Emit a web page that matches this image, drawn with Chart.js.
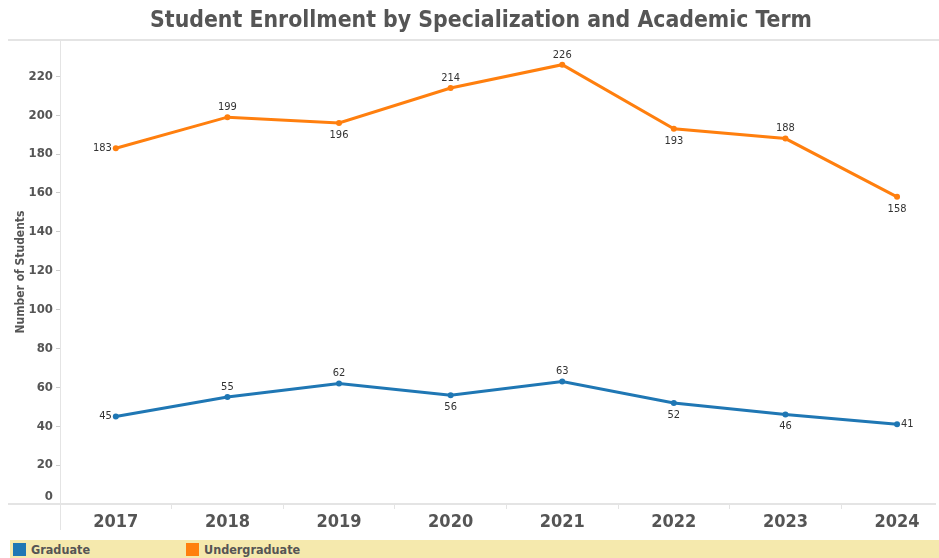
<!DOCTYPE html>
<html><head><meta charset="utf-8">
<script src="https://cdn.jsdelivr.net/npm/chart.js@4"></script>
<style>
html,body{margin:0;padding:0;background:#fff;overflow:hidden}
#wrap{position:relative;width:939px;height:558px}
#c{position:absolute;left:0;top:0}
#legend{position:absolute;left:10px;top:540px;width:929px;height:18px;background:#f5e9ad;font:bold 12.5px 'DejaVu Sans Condensed','DejaVu Sans',sans-serif;color:#555}
.item{position:absolute;top:0;height:18px;line-height:19px;white-space:nowrap}
.sw{position:absolute;top:3px;width:13px;height:13px}
</style></head>
<body><div id="wrap"><canvas id="c" width="939" height="540"></canvas><div id="legend"></div></div>
<script>
const years = ['2017','2018','2019','2020','2021','2022','2023','2024'];
const graduate = [45,55,62,56,63,52,46,41];
const undergraduate = [183,199,196,214,226,193,188,158];
const yTicks = [0,20,40,60,80,100,120,140,160,180,200,220];
const seriesNames = ['Graduate','Undergraduate'];
const seriesColors = ['#1f77b4','#ff7f0e'];
const chartTitle = 'Student Enrollment by Specialization and Academic Term';
const yTitle = 'Number of Students';
const gradLabelPos = ['left','top','top','bottom','top','bottom','bottom','right'];
const ugLabelPos = ['left','top','bottom','top','top','bottom','top','bottom'];

const FAM = "'DejaVu Sans Condensed','DejaVu Sans',sans-serif";

const decor = {
  id: 'decor',
  afterDraw(chart) {
    const {ctx, chartArea: a} = chart;
    const ys = chart.scales.y;
    ctx.save();
    ctx.strokeStyle = '#e4e4e4';
    ctx.lineWidth = 2;
    ctx.beginPath(); ctx.moveTo(8, a.top); ctx.lineTo(chart.width, a.top); ctx.stroke();
    ctx.beginPath(); ctx.moveTo(8, a.bottom); ctx.lineTo(a.left, a.bottom); ctx.stroke();
    ctx.lineWidth = 1;
    ctx.beginPath(); ctx.moveTo(a.left + 0.5, a.top); ctx.lineTo(a.left + 0.5, 530); ctx.stroke();
    // zero tick label, lifted above the axis line as in the original
    ctx.fillStyle = '#555555';
    ctx.font = 'bold 13px ' + FAM;
    ctx.textAlign = 'right';
    ctx.textBaseline = 'middle';
    ctx.fillText(String(yTicks[0]), a.left - 7, ys.getPixelForValue(yTicks[0]) - 7);
    // title
    ctx.font = 'bold 22.8px ' + FAM;
    ctx.textAlign = 'center';
    ctx.fillText(chartTitle, 481, 21);
    // data labels
    ctx.font = '11px ' + FAM;
    ctx.fillStyle = '#333333';
    chart.data.datasets.forEach((ds, di) => {
      const meta = chart.getDatasetMeta(di);
      meta.data.forEach((pt, i) => {
        const pos = ds.labelPos[i];
        const txt = String(ds.data[i].y);
        let x = pt.x, y = pt.y;
        if (pos === 'top') { ctx.textAlign = 'center'; y -= 10; }
        else if (pos === 'bottom') { ctx.textAlign = 'center'; y += 12; }
        else if (pos === 'left') { ctx.textAlign = 'right'; x -= 4; }
        else { ctx.textAlign = 'left'; x += 4; }
        ctx.textBaseline = 'middle';
        ctx.fillText(txt, x, y);
      });
    });
    ctx.restore();
  }
};

function toPts(arr) { return arr.map((v, i) => ({x: i, y: v})); }

const chart = new Chart(document.getElementById('c'), {
  type: 'line',
  data: {
    datasets: [
      {label: seriesNames[0], data: toPts(graduate), borderColor: seriesColors[0], backgroundColor: seriesColors[0],
       borderWidth: 3, pointRadius: 3, pointBorderWidth: 0, pointBackgroundColor: seriesColors[0], tension: 0, labelPos: gradLabelPos},
      {label: seriesNames[1], data: toPts(undergraduate), borderColor: seriesColors[1], backgroundColor: seriesColors[1],
       borderWidth: 3, pointRadius: 3, pointBorderWidth: 0, pointBackgroundColor: seriesColors[1], tension: 0, labelPos: ugLabelPos}
    ]
  },
  options: {
    responsive: false,
    animation: false,
    devicePixelRatio: 1,
    layout: {padding: {top: 40, left: 0, right: 0, bottom: 0}},
    plugins: {legend: {display: false}, title: {display: false}, tooltip: {enabled: false}},
    scales: {
      x: {
        type: 'linear', min: -0.5, max: 7.34,
        afterBuildTicks: s => { s.ticks = years.map((_, i) => ({value: i})); },
        afterFit: s => { s.height = 36; },
        ticks: {callback: v => years[v], font: {family: FAM, size: 18, weight: 'bold'}, color: '#555555', padding: 3, maxRotation: 0, autoSkip: false},
        grid: {offset: true, drawOnChartArea: false, tickLength: 5, color: '#e4e4e4', lineWidth: 1},
        border: {display: true, color: '#e4e4e4', width: 2}
      },
      y: {
        min: 0, max: 238.7,
        afterBuildTicks: s => { s.ticks = yTicks.map(v => ({value: v})); },
        afterFit: s => { s.width = 60; },
        ticks: {callback: v => (v === 0 ? '' : String(v)), font: {family: FAM, size: 13, weight: 'bold'}, color: '#555555', padding: 3},
        grid: {drawOnChartArea: false, tickLength: 4, color: c => (c.tick && c.tick.value === 0 ? 'rgba(0,0,0,0)' : '#cccccc')},
        border: {display: false},
        title: {display: true, text: yTitle, font: {family: FAM, size: 12, weight: 'bold'}, color: '#555555', padding: {top: 14, bottom: 0}}
      }
    }
  },
  plugins: [decor]
});

// HTML legend built from datasets
const leg = document.getElementById('legend');
const legX = [3, 176];
chart.data.datasets.forEach((ds, i) => {
  const it = document.createElement('div');
  it.className = 'item';
  it.style.left = legX[i] + 'px';
  it.innerHTML = '<span class="sw" style="left:0;background:' + ds.borderColor + '"></span><span style="margin-left:18px">' + ds.label + '</span>';
  leg.appendChild(it);
});
</script>
</body></html>
